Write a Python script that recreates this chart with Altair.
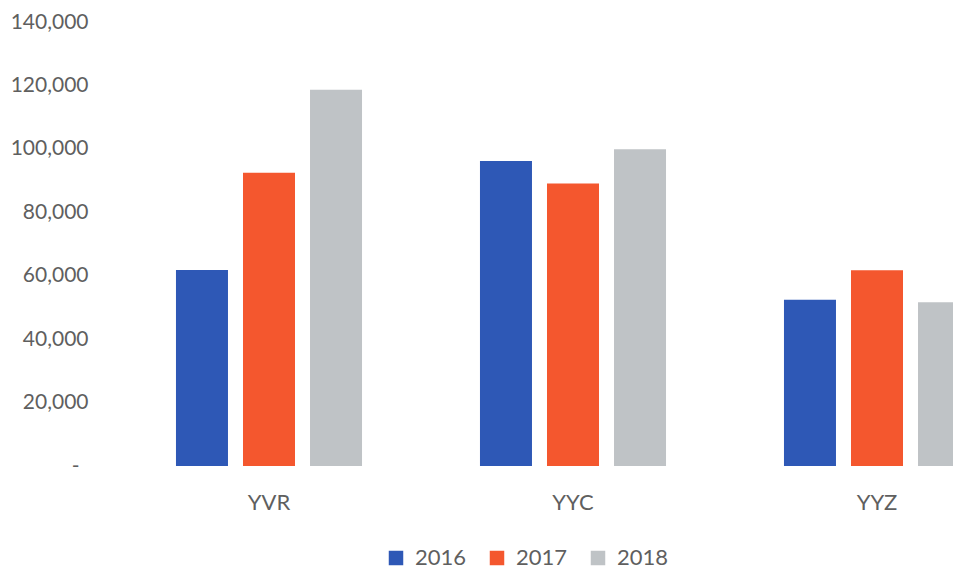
import altair as alt
import pandas as pd

airports = ["YVR", "YYC", "YYZ"]
years = ["2016", "2017", "2018"]
v2016 = [61800, 96200, 52400]
v2017 = [92500, 89100, 61700]
v2018 = [118600, 99900, 51600]
colors = ["#2E58B6", "#F4572E", "#BFC3C6"]
y_ticks = [0, 20000, 40000, 60000, 80000, 100000, 120000, 140000]

rows = []
for i, a in enumerate(airports):
    for y, vals in zip(years, [v2016, v2017, v2018]):
        rows.append({"airport": a, "year": y, "value": vals[i]})
df = pd.DataFrame(rows)

FONT = "Lato"
TXT = "#5f5f5f"

chart = alt.Chart(df).mark_bar(clip=True).encode(
    x=alt.X("airport:N", sort=airports, title=None,
            scale=alt.Scale(range=[0, 912], paddingInner=0.388, paddingOuter=0.194),
            axis=alt.Axis(labelAngle=0, domain=False, ticks=False, tickSize=0,
                          labelPadding=26, labelFontSize=22, labelColor=TXT,
                          labelFont=FONT)),
    xOffset=alt.XOffset("year:N", sort=years,
                        scale=alt.Scale(paddingInner=0.224, paddingOuter=0)),
    y=alt.Y("value:Q", title=None,
            scale=alt.Scale(domain=[0, 140000], nice=False),
            axis=alt.Axis(values=y_ticks, domain=False, ticks=False, tickSize=0,
                          grid=False,
                          labelPadding={"condition": {"test": "datum.value == 0", "value": 38}, "value": 29},
                          labelFontSize=21,
                          labelColor=TXT, labelFont=FONT,
                          labelExpr="datum.value == 0 ? '-' : format(datum.value, ',')")),
    color=alt.Color("year:N", sort=years, title=None,
                    scale=alt.Scale(domain=years, range=colors),
                    legend=alt.Legend(orient="none", direction="horizontal",
                                      legendX=268, legendY=525,
                                      symbolType="square", symbolSize=210,
                                      symbolStrokeWidth=0, labelFontSize=22,
                                      labelColor=TXT, labelFont=FONT,
                                      labelOffset=8, columnPadding=19)),
).properties(
    width=836, height=444,
    autosize=alt.AutoSizeParams(type="none"),
    padding={"left": 109, "top": 14, "right": 0, "bottom": 105},
    background="white",
).configure_view(strokeWidth=0)

chart.save("out.html", embed_options={"renderer": "svg", "actions": False})
